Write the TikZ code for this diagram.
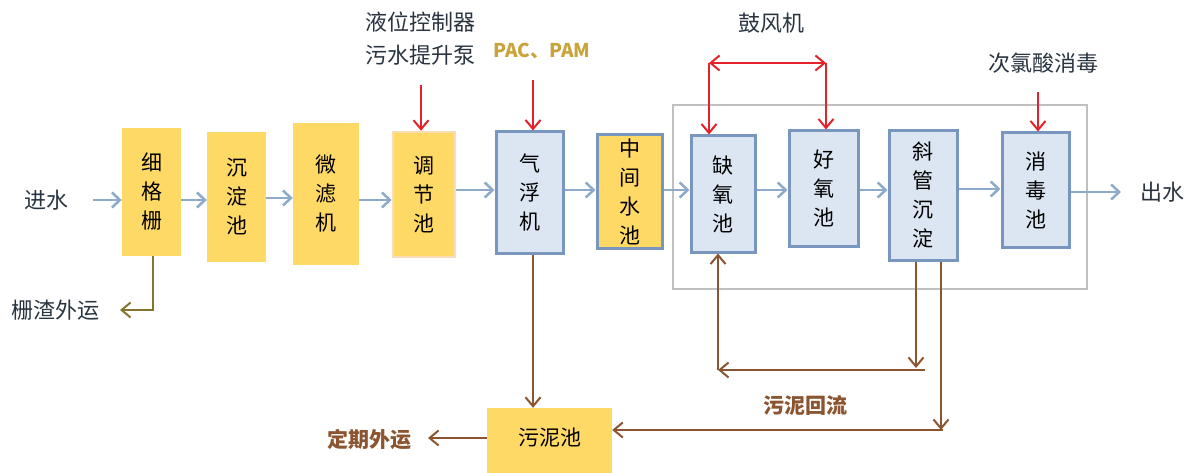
\documentclass[tikz,border=0pt]{standalone}
\usepackage{fontspec}
\setmainfont{Noto Sans CJK SC}
\usetikzlibrary{arrows.meta}
\definecolor{yfill}{HTML}{FFD966}
\definecolor{bfill}{HTML}{DCE6F2}
\definecolor{bline}{HTML}{7896BE}
\definecolor{flow}{HTML}{8EAACB}
\definecolor{rd}{HTML}{E5212B}
\definecolor{brn}{HTML}{8A5530}
\definecolor{olv}{HTML}{85742F}
\definecolor{gry}{HTML}{C0C0C0}
\definecolor{txt}{HTML}{2A3440}
\definecolor{gold}{HTML}{C9A43A}
\definecolor{peach}{HTML}{F9DDB8}
\tikzset{
  box/.style={draw=none, fill=yfill, align=center, inner sep=0pt,
    font=\fontsize{21}{29}\selectfont, text=black},
  ybox/.style={box},
  pbox/.style={box, draw=peach, line width=2.5pt},
  bbox/.style={box, fill=bfill, draw=bline, line width=3pt},
  ybbox/.style={box, draw=bline, line width=3pt},
  flowarr/.style={draw=flow, line width=2.5pt, -{Straight Barb[length=8pt,width=15pt]}},
  redarr/.style={draw=rd, line width=2pt, -{Straight Barb[length=9pt,width=15pt]}},
  brnarr/.style={draw=brn, line width=2pt, -{Straight Barb[length=9pt,width=15pt]}},
  lbl/.style={font=\fontsize{22}{33}\selectfont, text=txt, align=center, inner sep=0pt},
  blbl/.style={lbl, font=\bfseries\fontsize{21}{24}\selectfont, text=brn},
}
\begin{document}
\begin{tikzpicture}[x=1pt,y=-1pt]
\useasboundingbox (0,0) rectangle (1188,473);
% big grey frame
\draw[gry, line width=2.5pt] (673,105) rectangle (1087,289);
% boxes
\node[ybox, minimum width=59pt, minimum height=128pt] (n1) at (151.5,192) {细\\格\\栅};
\node[ybox, minimum width=59pt, minimum height=130pt] (n2) at (236.5,197) {沉\\淀\\池};
\node[ybox, minimum width=66pt, minimum height=142pt] (n3) at (326,194) {微\\滤\\机};
\node[pbox, minimum width=62pt, minimum height=125pt] (n4) at (424,194.5) {调\\节\\池};
\node[bbox, minimum width=67pt, minimum height=121pt] (n5) at (529.5,192.5) {气\\浮\\机};
\node[ybbox, minimum width=65pt, minimum height=113pt] (n6) at (629.5,191.5) {中\\间\\水\\池};
\node[bbox, minimum width=64pt, minimum height=116pt] (n7) at (723,194) {缺\\氧\\池};
\node[bbox, minimum width=69pt, minimum height=115pt] (n8) at (823.5,188.5) {好\\氧\\池};
\node[bbox, minimum width=68pt, minimum height=129pt] (n9) at (923,195.5) {斜\\管\\沉\\淀};
\node[bbox, minimum width=67pt, minimum height=114pt] (n10) at (1035.5,190) {消\\毒\\池};
\node[ybox, minimum width=125pt, minimum height=66pt] (n11) at (549.5,441) {\raisebox{9pt}{污泥池}};
% text labels
\node[lbl] (in) at (46,200) {进水};
\node[lbl] (out) at (1162,192) {出水};
\node[lbl] (sz) at (56,310) {栅渣外运};
\node[lbl] (lv) at (420,39) {液位控制器\\污水提升泵};
\node[lbl, font=\bfseries\fontsize{19}{22}\selectfont, text=gold] (pac) at (542,51) {PAC、PAM};
\node[lbl] (gf) at (771,23) {鼓风机};
\node[lbl] (cl) at (1043,63) {次氯酸消毒};
\node[blbl] (hl) at (805,406) {污泥回流};
\node[blbl] (dq) at (369,440) {定期外运};
% coordinates
\coordinate (inA) at (93,200);
\coordinate (outB) at (1121,192);
\coordinate (lvA) at (421,85);
\coordinate (pacA) at (533,80);
\coordinate (clA) at (1038,92);
\coordinate (gfL) at (709,63);
\coordinate (gfR) at (826,63);
% main flow
\draw[flowarr] (inA) -- (n1.west |- inA);
\draw[flowarr] (n1.east |- 0,200) -- (n2.west |- 0,200);
\draw[flowarr] (n2.east |- 0,198) -- (n3.west |- 0,198);
\draw[flowarr] (n3.east |- 0,200) -- (n4.west |- 0,200);
\draw[flowarr] (n4.east |- 0,190) -- (n5.west |- 0,190);
\draw[flowarr] (n5.east |- 0,190) -- (n6.west |- 0,190);
\draw[flowarr] (n6.east |- 0,190) -- (n7.west |- 0,190);
\draw[flowarr] (n7.east |- 0,190) -- (n8.west |- 0,190);
\draw[flowarr] (n8.east |- 0,190) -- (n9.west |- 0,190);
\draw[flowarr] (n9.east |- 0,189) -- (n10.west |- 0,189);
\draw[flowarr] (n10.east |- outB) -- (outB);
% screenings
\draw[draw=olv, line width=2pt, -{Straight Barb[length=9pt,width=15pt]}]
  (n1.south -| 153,0) |- (120,310);
% red dosing arrows
\draw[redarr] (lvA) -- (n4.north -| lvA);
\draw[redarr] (pacA) -- (n5.north -| pacA);
\draw[redarr] (clA) -- (n10.north -| clA);
\draw[draw=rd, line width=2pt, {Straight Barb[length=9pt,width=15pt]}-{Straight Barb[length=9pt,width=15pt]}] (gfL) -- (gfR);
\draw[redarr] (gfL) -- (n7.north -| gfL);
\draw[redarr] (gfR) -- (n8.north -| gfR);
% sludge
\draw[brnarr] (n5.south -| 533,0) -- (n11.north -| 533,0);
\coordinate (r1) at (916,368);
\coordinate (r2) at (925,370);
\coordinate (r3) at (718,370);
\draw[brnarr] (n9.south -| r1) -- (r1);
\draw[brnarr] (r2) -- (r3);
\draw[brnarr] (r3) -- (n7.south -| r3);
\coordinate (s1) at (941,430);
\draw[brnarr] (n9.south -| s1) -- (s1);
\draw[brnarr] (943,430) -- (n11.east |- 0,430);
\draw[brnarr] (n11.west |- 0,438) -- (428,438);
\end{tikzpicture}
\end{document}
